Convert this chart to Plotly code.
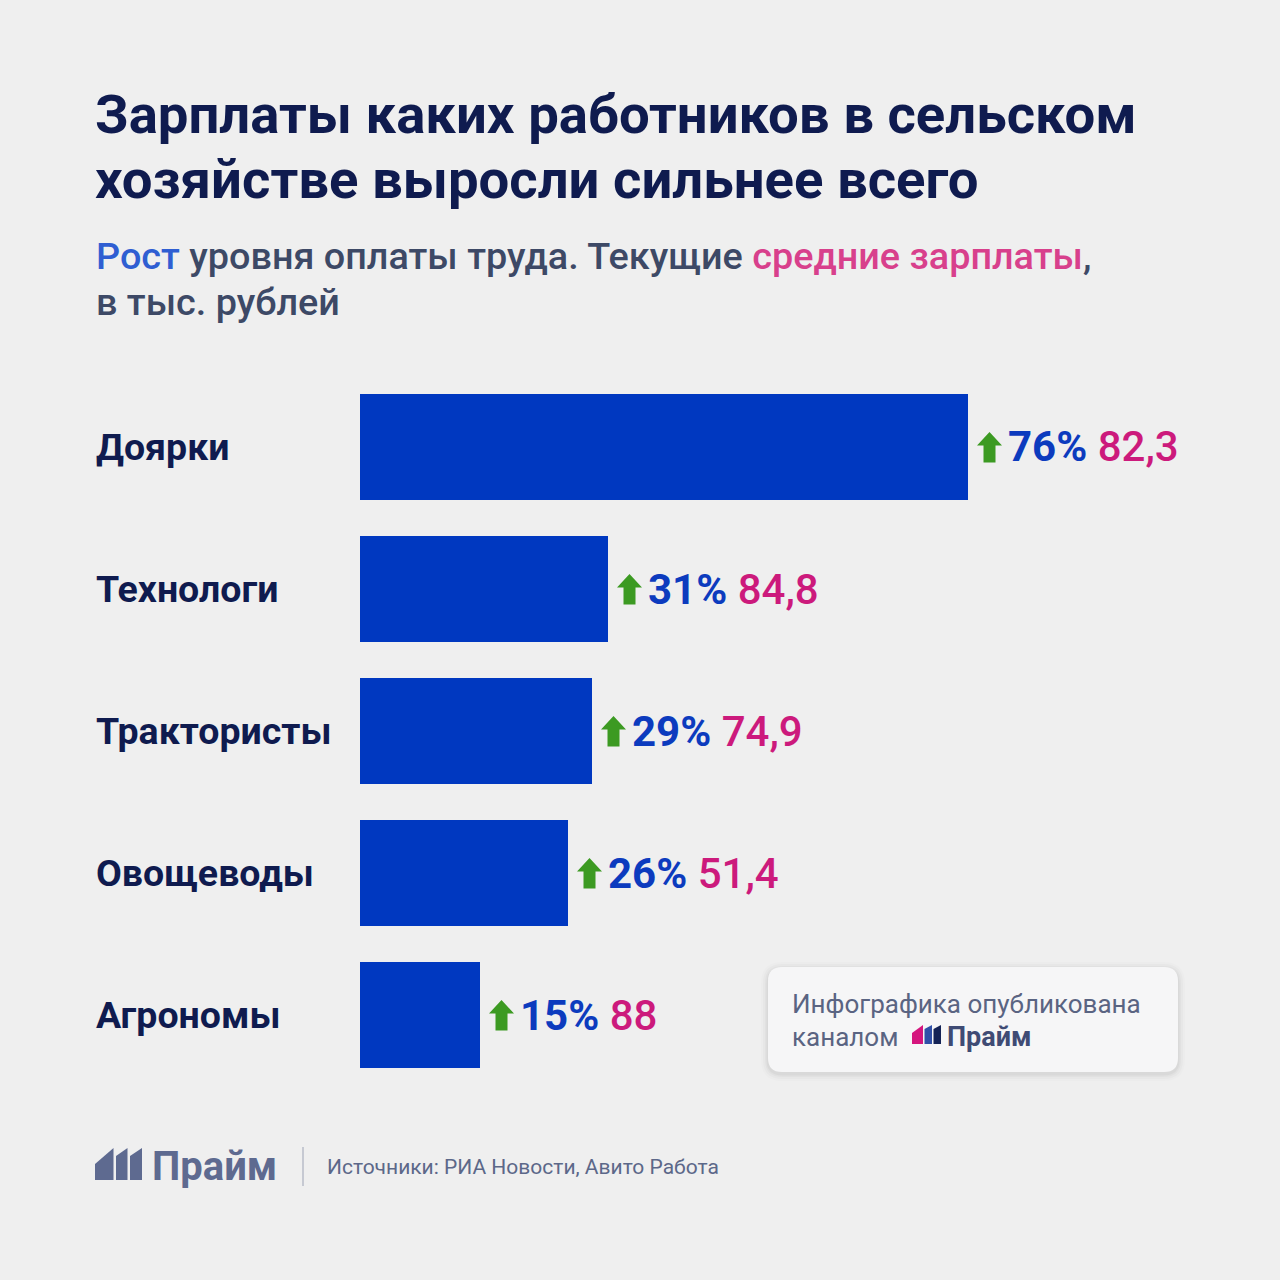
import plotly.graph_objects as go

# ---- data ----
categories = ["Доярки", "Технологи", "Трактористы", "Овощеводы", "Агрономы"]
growth_pct = [76, 31, 29, 26, 15]
avg_salary = [82.3, 84.8, 74.9, 51.4, 88]

title_lines = ["Зарплаты каких работников в сельском", "хозяйстве выросли сильнее всего"]
source_text = "Источники: РИА Новости, Авито Работа"

# ---- styles ----
W = H = 1280
BG = "#EFEFEF"
NAVY = "#0F1B4F"
BAR = "#0038C0"
BLUE_TXT = "#0C3BBE"
PINK = "#CC1A7C"
GREEN = "#3C9A22"
SLATE = "#3D4966"
GREYBLUE = "#5E6A90"
FONT = "Roboto"


def px(x):
    return x / W


def py(y):
    return 1 - y / H


ypos = list(range(len(categories)))

fig = go.Figure()
fig.add_trace(go.Bar(
    x=growth_pct, y=ypos, orientation="h",
    marker=dict(color=BAR, line=dict(width=0)),
    width=0.746, hoverinfo="skip", showlegend=False,
))

annotations = []
shapes = []

# title
for i, line in enumerate(title_lines):
    annotations.append(dict(
        xref="paper", yref="paper", x=px(93), y=py(114 + i * 65),
        xanchor="left", yanchor="middle", showarrow=False,
        text=f"<b>{line}</b>", font=dict(family=FONT, size=54.5, color=NAVY),
    ))

# subtitle
annotations.append(dict(
    xref="paper", yref="paper", x=px(94), y=py(256),
    xanchor="left", yanchor="middle", showarrow=False,
    text=(f"<span style='color:#2F5ED2'>Рост</span> уровня оплаты труда. Текущие "
          f"<span style='color:#D8408C'>средние зарплаты</span>,"),
    font=dict(family=FONT, size=37.8, color=SLATE, weight=500),
))
annotations.append(dict(
    xref="paper", yref="paper", x=px(94), y=py(302),
    xanchor="left", yanchor="middle", showarrow=False,
    text="в тыс. рублей",
    font=dict(family=FONT, size=37.8, color=SLATE, weight=500),
))

# category labels and value labels
for i, (cat, g, v) in enumerate(zip(categories, growth_pct, avg_salary)):
    annotations.append(dict(
        xref="paper", yref="y", x=px(94), y=i,
        xanchor="left", yanchor="middle", showarrow=False,
        text=f"<b>{cat}</b>", font=dict(family=FONT, size=37.5, color=NAVY),
    ))
    vtxt = f"{v:g}".replace(".", ",")
    annotations.append(dict(
        xref="x", yref="y", x=g, y=i, xshift=38,
        xanchor="left", yanchor="middle", showarrow=False,
        text=f"<b>{g}%</b> <span style='color:{PINK}'>{vtxt}</span>",
        font=dict(family=FONT, size=42, color=BLUE_TXT, weight=500),
    ))
    shapes.append(dict(
        type="path", xref="x", yref="y", xsizemode="pixel", ysizemode="pixel",
        xanchor=g, yanchor=i,
        path="M 15.5,-15.5 L 15.5,1.5 L 9,1.5 L 21.5,15 L 34,1.5 L 27.5,1.5 L 27.5,-15.5 Z",
        fillcolor=GREEN, line=dict(width=0),
    ))


def rounded_rect(x0, y0, x1, y1, r):
    pts = [
        f"M {px(x0 + r)},{py(y0)}",
        f"L {px(x1 - r)},{py(y0)}",
        f"Q {px(x1)},{py(y0)} {px(x1)},{py(y0 + r)}",
        f"L {px(x1)},{py(y1 - r)}",
        f"Q {px(x1)},{py(y1)} {px(x1 - r)},{py(y1)}",
        f"L {px(x0 + r)},{py(y1)}",
        f"Q {px(x0)},{py(y1)} {px(x0)},{py(y1 - r)}",
        f"L {px(x0)},{py(y0 + r)}",
        f"Q {px(x0)},{py(y0)} {px(x0 + r)},{py(y0)}",
        "Z",
    ]
    return " ".join(pts)


# publication box with soft shadow
for k, op in [(7, 0.012), (5, 0.018), (3, 0.025), (1.5, 0.03)]:
    shapes.append(dict(type="path", xref="paper", yref="paper",
                       path=rounded_rect(768 - k, 967 - k + 2, 1178 + k, 1072 + k + 2, 14 + k),
                       fillcolor=f"rgba(0,0,0,{op})", line=dict(width=0), layer="below"))
shapes.append(dict(type="path", xref="paper", yref="paper",
                   path=rounded_rect(768, 967, 1178, 1072, 14),
                   fillcolor="#F6F6F7", line=dict(width=0), layer="below"))

annotations.append(dict(
    xref="paper", yref="paper", x=px(790), y=py(1004),
    xanchor="left", yanchor="middle", showarrow=False,
    text="Инфографика опубликована",
    font=dict(family=FONT, size=26, color="#5A6482"),
))
annotations.append(dict(
    xref="paper", yref="paper", x=px(790), y=py(1037),
    xanchor="left", yanchor="middle", showarrow=False,
    text="каналом",
    font=dict(family=FONT, size=26, color="#5A6482"),
))


def logo_bars(bars, bottom, colors):
    # bars: list of (x_left, x_right, top_left, top_right) in pixels
    out = []
    for (a, b, tl, tr), c in zip(bars, colors):
        path = (f"M {px(a)},{py(bottom)} L {px(a)},{py(tl)} "
                f"L {px(b)},{py(tr)} L {px(b)},{py(bottom)} Z")
        out.append(dict(type="path", xref="paper", yref="paper", path=path,
                        fillcolor=c, line=dict(width=0)))
    return out


shapes += logo_bars([(912, 923, 1033, 1025), (924.5, 932, 1029, 1025), (933.5, 941, 1029, 1025)],
                    1044, ["#D5157E", "#3050A8", "#142356"])
annotations.append(dict(
    xref="paper", yref="paper", x=px(945), y=py(1037),
    xanchor="left", yanchor="middle", showarrow=False,
    text="<b>Прайм</b>",
    font=dict(family=FONT, size=27, color="#3F4B74"),
))

# footer
shapes += logo_bars([(95, 113.5, 1164, 1148), (116, 127.5, 1156, 1148), (130, 142, 1156, 1148)],
                    1180, [GREYBLUE] * 3)
annotations.append(dict(
    xref="paper", yref="paper", x=px(150), y=py(1166),
    xanchor="left", yanchor="middle", showarrow=False,
    text="<b>Прайм</b>",
    font=dict(family=FONT, size=40, color=GREYBLUE),
))
shapes.append(dict(type="line", xref="paper", yref="paper",
                   x0=px(303), x1=px(303), y0=py(1147), y1=py(1186),
                   line=dict(color="#B9BDC9", width=1.5)))
annotations.append(dict(
    xref="paper", yref="paper", x=px(325), y=py(1167),
    xanchor="left", yanchor="middle", showarrow=False,
    text=source_text,
    font=dict(family=FONT, size=21, color="#5C6889"),
))

fig.update_layout(
    width=W, height=H, autosize=False,
    margin=dict(l=0, r=0, t=0, b=0, pad=0),
    paper_bgcolor=BG, plot_bgcolor=BG,
    xaxis=dict(domain=[px(360), 1], range=[0, 115], visible=False, fixedrange=True),
    yaxis=dict(domain=[1 - 1086 / H, 1 - 376 / H], range=[4.5, -0.5],
               visible=False, fixedrange=True),
    annotations=annotations, shapes=shapes,
    showlegend=False, bargap=0,
)

fig.write_html("out.html", include_plotlyjs=True,
               config={"displayModeBar": False},
               post_script="document.body.style.margin='0';")
